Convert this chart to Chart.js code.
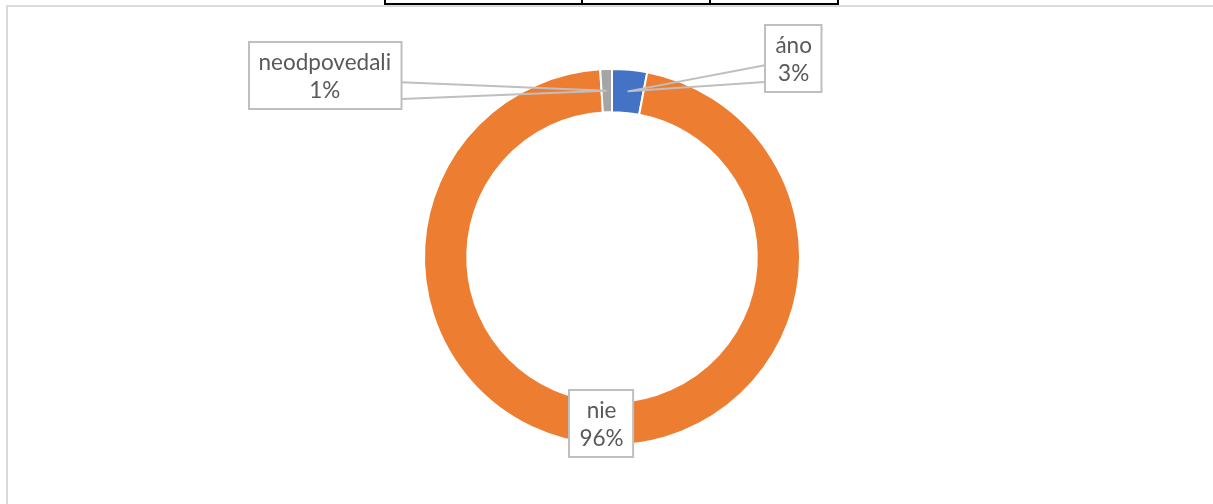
<!DOCTYPE html>
<html lang="sk">
<head>
  <meta charset="UTF-8">
  <title>Graf</title>
  <style>
    *{
      margin: 0;
      padding: 0;
      box-sizing: border-box;
    }
    body{
      width: 1213px;
      height: 504px;
      overflow: hidden;
      background: #fff;
      position: relative;
      font-family: Lato, sans-serif;
    }
    .tableEdge{
      position: absolute;
      left: 384px;
      top: 0;
      height: 5px;
      display: flex;
      border-left: 2px solid #000;
      border-bottom: 2px solid #000;
    }
    .tableEdge div{
      height: 3px;
      border-right: 2px solid #000;
    }
    .chartFrame{
      position: absolute;
      left: 6px;
      top: 5px;
      right: 0;
      bottom: 0;
      border-left: 2px solid #d9d9d9;
      border-top: 2px solid #d9d9d9;
    }
    #myChart{
      position: absolute;
      left: 0;
      top: 0;
    }
  </style>
</head>
<body>
  <div class="tableEdge">
    <div style="width:197px"></div>
    <div style="width:128px"></div>
    <div style="width:128px"></div>
  </div>
  <div class="chartFrame"></div>
  <canvas id="myChart" width="1213" height="504"></canvas>

  <script src="https://cdn.jsdelivr.net/npm/chart.js"></script>
  <script>
    // data
    const categories = ['áno', 'nie', 'neodpovedali'];
    const values = [3, 96, 1];
    const colors = ['#4472C4', '#ED7D31', '#A5A5A5'];

    // where each callout box sits relative to its slice (px)
    const calloutOffsets = [[166, -33], [0, 0], [-282, -15]];

    // data callouts with wedge leader lines
    const calloutPlugin = {
      id: 'callouts',
      afterDatasetsDraw(chart) {
        const ctx = chart.ctx;
        const meta = chart.getDatasetMeta(0);
        const total = values.reduce((a, b) => a + b, 0);
        ctx.save();
        ctx.font = '22.5px Lato';
        meta.data.forEach((arc, i) => {
          const p = arc.tooltipPosition();
          const lines = [categories[i], Math.round(values[i] / total * 100) + '%'];
          const w = Math.max(...lines.map(t => ctx.measureText(t).width)) + 20;
          const h = 67;
          const off = calloutOffsets[i];
          const cx = p.x + off[0];
          const cy = p.y + off[1];
          const x0 = Math.round(cx - w / 2);
          const y0 = Math.round(cy - h / 2);

          ctx.strokeStyle = '#bfbfbf';
          ctx.lineWidth = 2;
          if (off[0] !== 0) {
            const ex = off[0] > 0 ? x0 : x0 + w;
            ctx.beginPath();
            ctx.moveTo(ex, y0 + h * 0.6);
            ctx.lineTo(p.x, p.y);
            ctx.lineTo(ex, y0 + h * 0.85);
            ctx.stroke();
          }
          ctx.fillStyle = '#fff';
          ctx.fillRect(x0, y0, w, h);
          ctx.strokeRect(x0, y0, w, h);

          ctx.fillStyle = '#595959';
          ctx.textAlign = 'center';
          ctx.textBaseline = 'alphabetic';
          ctx.fillText(lines[0], cx, y0 + 28);
          ctx.fillText(lines[1], cx, y0 + 56);
        });
        ctx.restore();
      }
    };

    const data = {
      labels: categories,
      datasets: [{
        data: values,
        backgroundColor: colors,
        borderColor: '#fff',
        borderWidth: 2
      }]
    };

    const config = {
      type: 'doughnut',
      data,
      options: {
        responsive: false,
        animation: false,
        radius: 188,
        cutout: '77%',
        layout: {
          padding: { left: 11, top: 10 }
        },
        plugins: {
          legend: { display: false },
          tooltip: { enabled: false }
        }
      },
      plugins: [calloutPlugin]
    };

    const myChart = new Chart(document.getElementById('myChart'), config);
  </script>
</body>
</html>
